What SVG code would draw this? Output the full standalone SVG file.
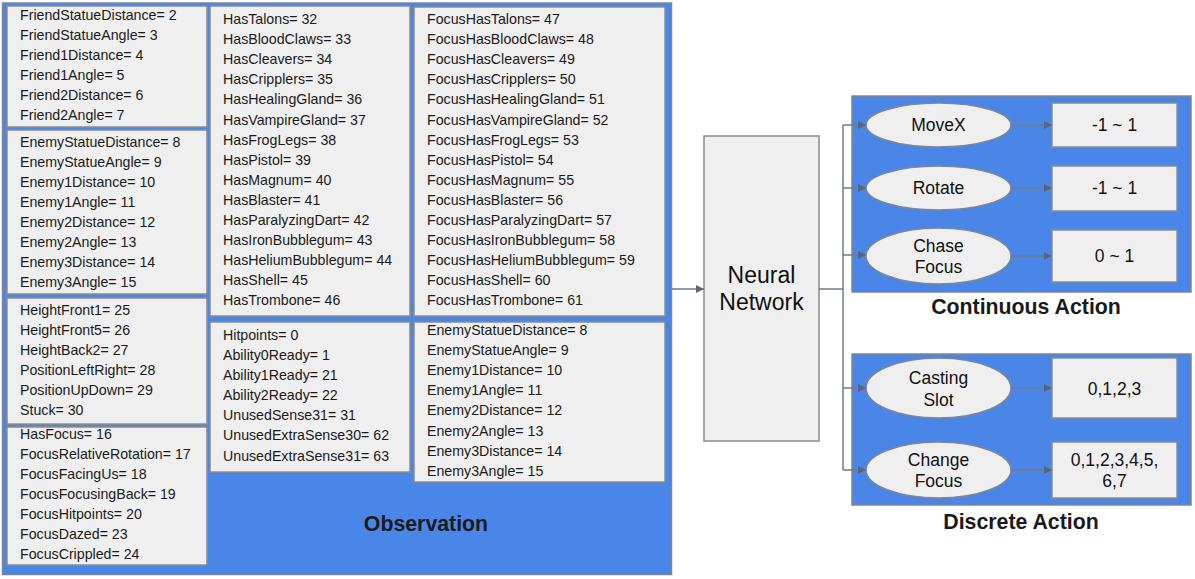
<svg xmlns="http://www.w3.org/2000/svg" width="1195" height="579" viewBox="0 0 1195 579">
<style>
.panel{fill:#4a86e8;stroke:#7d8698;stroke-width:1.5}
.box{fill:#efefef;stroke:#8c8c8c;stroke-width:1.5}
.t{font-family:"Liberation Sans",Arial,sans-serif;font-size:14.2px;fill:#1a1a1a}
.big{font-family:"Liberation Sans",Arial,sans-serif;font-size:17.5px;fill:#111;text-anchor:middle}
.nn{font-family:"Liberation Sans",Arial,sans-serif;font-size:23px;fill:#111;text-anchor:middle}
.title{font-family:"Liberation Sans",Arial,sans-serif;font-size:21.3px;font-weight:bold;fill:#1a1a1a;text-anchor:middle}
.ell{fill:#efefef;stroke:#7d8698;stroke-width:1.5}
.conn{fill:none;stroke:#6f7a8c;stroke-width:1.5}
</style>
<defs>
<marker id="arr" viewBox="0 0 10 10" refX="10" refY="5" markerWidth="8" markerHeight="8" markerUnits="userSpaceOnUse" orient="auto">
<path d="M0,0 L10,5 L0,10 Z" fill="#5a6577"/>
</marker>
</defs>
<rect width="1195" height="579" fill="#ffffff"/>

<g id="observation">
<rect class="panel" x="2.5" y="3" width="669" height="571.5"/>
<text class="title" x="426" y="531">Observation</text>
</g>

<g id="friends">
<rect class="box" x="7" y="6" width="200" height="121"/>
<text class="t" x="20" y="20">FriendStatueDistance= 2</text>
<text class="t" x="20" y="40">FriendStatueAngle= 3</text>
<text class="t" x="20" y="60">Friend1Distance= 4</text>
<text class="t" x="20" y="80">Friend1Angle= 5</text>
<text class="t" x="20" y="100">Friend2Distance= 6</text>
<text class="t" x="20" y="120">Friend2Angle= 7</text>
</g>

<g id="enemies-left">
<rect class="box" x="7" y="130" width="200" height="164"/>
<text class="t" x="20" y="147">EnemyStatueDistance= 8</text>
<text class="t" x="20" y="167">EnemyStatueAngle= 9</text>
<text class="t" x="20" y="187">Enemy1Distance= 10</text>
<text class="t" x="20" y="207">Enemy1Angle= 11</text>
<text class="t" x="20" y="227">Enemy2Distance= 12</text>
<text class="t" x="20" y="247">Enemy2Angle= 13</text>
<text class="t" x="20" y="267">Enemy3Distance= 14</text>
<text class="t" x="20" y="287">Enemy3Angle= 15</text>
</g>

<g id="position">
<rect class="box" x="7" y="298" width="200" height="126"/>
<text class="t" x="20" y="315">HeightFront1= 25</text>
<text class="t" x="20" y="335">HeightFront5= 26</text>
<text class="t" x="20" y="355">HeightBack2= 27</text>
<text class="t" x="20" y="375">PositionLeftRight= 28</text>
<text class="t" x="20" y="395">PositionUpDown= 29</text>
<text class="t" x="20" y="415">Stuck= 30</text>
</g>

<g id="focus">
<rect class="box" x="7" y="427" width="200" height="138"/>
<text class="t" x="20" y="439">HasFocus= 16</text>
<text class="t" x="20" y="459">FocusRelativeRotation= 17</text>
<text class="t" x="20" y="479">FocusFacingUs= 18</text>
<text class="t" x="20" y="499">FocusFocusingBack= 19</text>
<text class="t" x="20" y="519">FocusHitpoints= 20</text>
<text class="t" x="20" y="539">FocusDazed= 23</text>
<text class="t" x="20" y="559">FocusCrippled= 24</text>
</g>

<g id="has-items">
<rect class="box" x="210" y="6" width="200" height="310"/>
<text class="t" x="223" y="24">HasTalons= 32</text>
<text class="t" x="223" y="44.1">HasBloodClaws= 33</text>
<text class="t" x="223" y="64.2">HasCleavers= 34</text>
<text class="t" x="223" y="84.3">HasCripplers= 35</text>
<text class="t" x="223" y="104.4">HasHealingGland= 36</text>
<text class="t" x="223" y="124.5">HasVampireGland= 37</text>
<text class="t" x="223" y="144.6">HasFrogLegs= 38</text>
<text class="t" x="223" y="164.7">HasPistol= 39</text>
<text class="t" x="223" y="184.8">HasMagnum= 40</text>
<text class="t" x="223" y="204.9">HasBlaster= 41</text>
<text class="t" x="223" y="225">HasParalyzingDart= 42</text>
<text class="t" x="223" y="245.1">HasIronBubblegum= 43</text>
<text class="t" x="223" y="265.2">HasHeliumBubblegum= 44</text>
<text class="t" x="223" y="285.3">HasShell= 45</text>
<text class="t" x="223" y="305.4">HasTrombone= 46</text>
</g>

<g id="self-state">
<rect class="box" x="210" y="322" width="200" height="150"/>
<text class="t" x="223" y="340">Hitpoints= 0</text>
<text class="t" x="223" y="360">Ability0Ready= 1</text>
<text class="t" x="223" y="380">Ability1Ready= 21</text>
<text class="t" x="223" y="400">Ability2Ready= 22</text>
<text class="t" x="223" y="420">UnusedSense31= 31</text>
<text class="t" x="223" y="440">UnusedExtraSense30= 62</text>
<text class="t" x="223" y="461">UnusedExtraSense31= 63</text>
</g>

<g id="focus-has-items">
<rect class="box" x="414" y="7" width="251" height="309"/>
<text class="t" x="427" y="24">FocusHasTalons= 47</text>
<text class="t" x="427" y="44.1">FocusHasBloodClaws= 48</text>
<text class="t" x="427" y="64.2">FocusHasCleavers= 49</text>
<text class="t" x="427" y="84.3">FocusHasCripplers= 50</text>
<text class="t" x="427" y="104.4">FocusHasHealingGland= 51</text>
<text class="t" x="427" y="124.5">FocusHasVampireGland= 52</text>
<text class="t" x="427" y="144.6">FocusHasFrogLegs= 53</text>
<text class="t" x="427" y="164.7">FocusHasPistol= 54</text>
<text class="t" x="427" y="184.8">FocusHasMagnum= 55</text>
<text class="t" x="427" y="204.9">FocusHasBlaster= 56</text>
<text class="t" x="427" y="225">FocusHasParalyzingDart= 57</text>
<text class="t" x="427" y="245.1">FocusHasIronBubblegum= 58</text>
<text class="t" x="427" y="265.2">FocusHasHeliumBubblegum= 59</text>
<text class="t" x="427" y="285.3">FocusHasShell= 60</text>
<text class="t" x="427" y="305.4">FocusHasTrombone= 61</text>
</g>

<g id="enemies-right">
<rect class="box" x="414" y="322" width="251" height="160"/>
<text class="t" x="427" y="335">EnemyStatueDistance= 8</text>
<text class="t" x="427" y="355">EnemyStatueAngle= 9</text>
<text class="t" x="427" y="375">Enemy1Distance= 10</text>
<text class="t" x="427" y="395">Enemy1Angle= 11</text>
<text class="t" x="427" y="415">Enemy2Distance= 12</text>
<text class="t" x="427" y="436">Enemy2Angle= 13</text>
<text class="t" x="427" y="456">Enemy3Distance= 14</text>
<text class="t" x="427" y="476">Enemy3Angle= 15</text>
</g>

<g id="neural-network">
<rect class="box" x="704" y="136" width="115" height="305" stroke="#7d8698"/>
<text class="nn" x="761.5" y="283">Neural</text>
<text class="nn" x="761.5" y="310">Network</text>
</g>

<g id="continuous-action">
<rect class="panel" x="852" y="96" width="339" height="196"/>
<text class="title" x="1026" y="314">Continuous Action</text>
</g>

<g id="discrete-action">
<rect class="panel" x="852" y="354" width="339" height="151"/>
<text class="title" x="1021" y="529">Discrete Action</text>
</g>

<g id="movex">
<ellipse class="ell" cx="938.5" cy="125" rx="72.5" ry="22"/>
<text class="big" x="938.5" y="131">MoveX</text>
</g>
<g id="rotate">
<ellipse class="ell" cx="938.5" cy="188" rx="72.5" ry="22"/>
<text class="big" x="938.5" y="194">Rotate</text>
</g>
<g id="chase-focus">
<ellipse class="ell" cx="938.5" cy="256" rx="72.5" ry="28"/>
<text class="big" x="938.5" y="252">Chase</text>
<text class="big" x="938.5" y="273">Focus</text>
</g>
<g id="casting-slot">
<ellipse class="ell" cx="938.5" cy="388" rx="72.5" ry="30"/>
<text class="big" x="938.5" y="384">Casting</text>
<text class="big" x="938.5" y="406">Slot</text>
</g>
<g id="change-focus">
<ellipse class="ell" cx="938.5" cy="470" rx="72.5" ry="28"/>
<text class="big" x="938.5" y="466">Change</text>
<text class="big" x="938.5" y="487">Focus</text>
</g>

<g id="movex-range">
<rect class="box" x="1052" y="103" width="125" height="44"/>
<text class="big" x="1114.5" y="131">-1 ~ 1</text>
</g>
<g id="rotate-range">
<rect class="box" x="1052" y="166" width="125" height="45"/>
<text class="big" x="1114.5" y="194">-1 ~ 1</text>
</g>
<g id="chase-range">
<rect class="box" x="1052" y="230" width="125" height="52"/>
<text class="big" x="1114.5" y="262">0 ~ 1</text>
</g>
<g id="casting-range">
<rect class="box" x="1052" y="358" width="125" height="60"/>
<text class="big" x="1114.5" y="395">0,1,2,3</text>
</g>
<g id="focus-range">
<rect class="box" x="1052" y="442" width="125" height="56"/>
<text class="big" x="1114.5" y="466">0,1,2,3,4,5,</text>
<text class="big" x="1114.5" y="487">6,7</text>
</g>

<g id="connectors">
<path class="conn" d="M672,289 H704" marker-end="url(#arr)"/>
<path class="conn" d="M819,289 H843"/>
<path class="conn" d="M843,125 V470"/>
<path class="conn" d="M843,125 H866" marker-end="url(#arr)"/>
<path class="conn" d="M843,188 H866" marker-end="url(#arr)"/>
<path class="conn" d="M843,255 H866" marker-end="url(#arr)"/>
<path class="conn" d="M843,388 H866" marker-end="url(#arr)"/>
<path class="conn" d="M843,470 H866" marker-end="url(#arr)"/>
<path class="conn" d="M1011,125 H1052" marker-end="url(#arr)"/>
<path class="conn" d="M1011,188 H1052" marker-end="url(#arr)"/>
<path class="conn" d="M1011,256 H1052" marker-end="url(#arr)"/>
<path class="conn" d="M1011,388 H1052" marker-end="url(#arr)"/>
<path class="conn" d="M1011,470 H1052" marker-end="url(#arr)"/>
</g>
</svg>
